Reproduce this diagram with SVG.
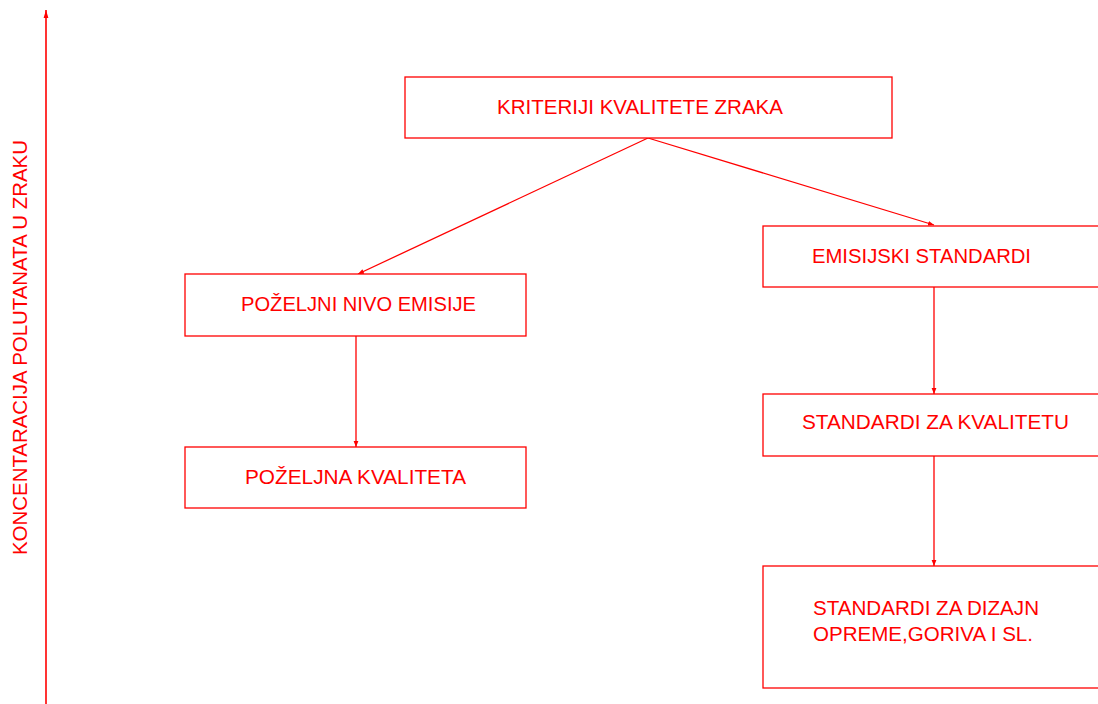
<svg xmlns="http://www.w3.org/2000/svg" width="1098" height="704" viewBox="0 0 1098 704">
<style>
.box{fill:#fff;stroke:#ff0000;stroke-width:1.3}
.t{font-family:"Liberation Sans",Arial,sans-serif;font-size:20px;fill:#ff0000}
.c{stroke:#ff0000;stroke-width:1.3;fill:none;marker-end:url(#ah)}
</style>
<defs>
<marker id="ah" viewBox="0 0 10 10" refX="10" refY="5" markerWidth="6" markerHeight="6" markerUnits="userSpaceOnUse" orient="auto">
<path d="M0,1 L10,5 L0,9 Z" fill="#ff0000"/>
</marker>
<marker id="ah2" viewBox="0 0 10 10" refX="10" refY="5" markerWidth="12" markerHeight="8" markerUnits="userSpaceOnUse" orient="auto">
<path d="M0,2 L10,5 L0,8 Z" fill="#ff0000"/>
</marker>
</defs>
<g id="axis">
<line x1="46" y1="704" x2="46" y2="10" stroke="#ff0000" stroke-width="1.6" marker-end="url(#ah2)"/>
<text class="t" transform="translate(27,555) rotate(-90)" textLength="415" lengthAdjust="spacingAndGlyphs">KONCENTARACIJA POLUTANATA U ZRAKU</text>
</g>
<g id="connectors">
<line class="c" x1="648" y1="138" x2="358" y2="274"/>
<line class="c" x1="648" y1="138" x2="934" y2="225"/>
<line class="c" x1="356" y1="336" x2="356" y2="447"/>
<line class="c" x1="934" y1="287" x2="934" y2="394"/>
<line class="c" x1="934" y1="456" x2="934" y2="566"/>
</g>
<g id="n1"><rect class="box" x="405" y="77" width="487" height="61"/><text class="t" x="497" y="114" textLength="286" lengthAdjust="spacingAndGlyphs">KRITERIJI KVALITETE ZRAKA</text></g>
<g id="n2"><rect class="box" x="185" y="274" width="341" height="62"/><text class="t" x="241" y="311" textLength="235" lengthAdjust="spacingAndGlyphs">POŽELJNI NIVO EMISIJE</text></g>
<g id="n3"><rect class="box" x="185" y="447" width="341" height="61"/><text class="t" x="245" y="484" textLength="221" lengthAdjust="spacingAndGlyphs">POŽELJNA KVALITETA</text></g>
<g id="n4"><rect class="box" x="763" y="226" width="345" height="61"/><text class="t" x="812" y="263" textLength="219" lengthAdjust="spacingAndGlyphs">EMISIJSKI STANDARDI</text></g>
<g id="n5"><rect class="box" x="763" y="394" width="345" height="62"/><text class="t" x="802" y="429" textLength="267" lengthAdjust="spacingAndGlyphs">STANDARDI ZA KVALITETU</text></g>
<g id="n6"><rect class="box" x="763" y="566" width="345" height="122"/><text class="t" x="813" y="615" textLength="226" lengthAdjust="spacingAndGlyphs">STANDARDI ZA DIZAJN</text><text class="t" x="813" y="641" textLength="220" lengthAdjust="spacingAndGlyphs">OPREME,GORIVA I SL.</text></g>
</svg>
